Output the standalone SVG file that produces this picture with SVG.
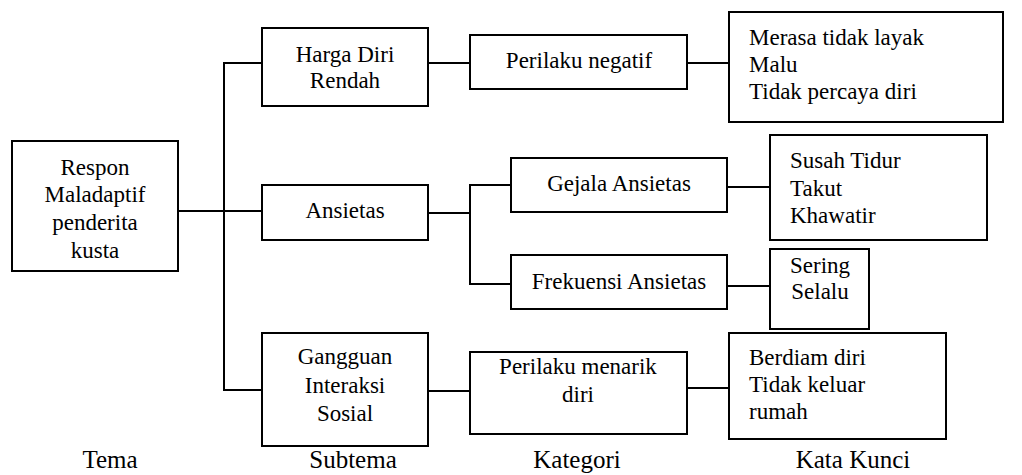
<svg xmlns="http://www.w3.org/2000/svg" width="1022" height="475" viewBox="0 0 1022 475">
<style>
rect{fill:#fff;stroke:#000;stroke-width:2}
.c line{stroke:#000;stroke-width:2}
text{font-family:'Liberation Serif','Tinos','DejaVu Serif',serif;font-size:23px;fill:#000}
.m{text-anchor:middle}
.h{font-size:25px;text-anchor:middle}
</style>
<rect width="1022" height="475" style="stroke:none"/>
<g class="c" id="connectors">
<line x1="178" y1="211" x2="262" y2="211"/>
<line x1="224" y1="62" x2="224" y2="391"/>
<line x1="223" y1="63" x2="262" y2="63"/>
<line x1="223" y1="390" x2="262" y2="390"/>
<line x1="428" y1="63" x2="470" y2="63"/>
<line x1="428" y1="213" x2="470" y2="213"/>
<line x1="470" y1="184" x2="470" y2="285"/>
<line x1="469" y1="185" x2="511" y2="185"/>
<line x1="469" y1="284" x2="511" y2="284"/>
<line x1="428" y1="391" x2="470" y2="391"/>
<line x1="687" y1="63" x2="729" y2="63"/>
<line x1="727" y1="187" x2="770" y2="187"/>
<line x1="727" y1="286" x2="770" y2="286"/>
<line x1="687" y1="388" x2="729" y2="388"/>
</g>
<g id="respon"><rect x="12" y="141" width="166" height="130"/>
<text class="m" x="95" y="175">Respon</text><text class="m" x="95" y="202">Maladaptif</text><text class="m" x="95" y="230">penderita</text><text class="m" x="95" y="258">kusta</text></g>
<g id="harga"><rect x="262" y="28" width="166" height="78"/>
<text class="m" x="345" y="62">Harga Diri</text><text class="m" x="345" y="88">Rendah</text></g>
<g id="ansietas"><rect x="262" y="185" width="166" height="55"/>
<text class="m" x="345" y="218">Ansietas</text></g>
<g id="gangguan"><rect x="262" y="333" width="166" height="113"/>
<text class="m" x="345" y="364">Gangguan</text><text class="m" x="345" y="393">Interaksi</text><text class="m" x="345" y="421">Sosial</text></g>
<g id="perilaku-negatif"><rect x="470" y="35" width="217" height="54"/>
<text class="m" x="579" y="68">Perilaku negatif</text></g>
<g id="gejala"><rect x="511" y="158" width="216" height="54"/>
<text class="m" x="619" y="191">Gejala Ansietas</text></g>
<g id="frekuensi"><rect x="511" y="255" width="216" height="54"/>
<text class="m" x="619" y="289">Frekuensi Ansietas</text></g>
<g id="perilaku-menarik"><rect x="470" y="352" width="217" height="82"/>
<text class="m" x="578" y="374">Perilaku menarik</text><text class="m" x="578" y="402">diri</text></g>
<g id="merasa"><rect x="729" y="12" width="274" height="110"/>
<text x="749" y="45">Merasa tidak layak</text><text x="749" y="72">Malu</text><text x="749" y="99">Tidak percaya diri</text></g>
<g id="susah"><rect x="770" y="135" width="217" height="105"/>
<text x="790" y="168">Susah Tidur</text><text x="790" y="196">Takut</text><text x="790" y="223">Khawatir</text></g>
<g id="sering"><rect x="770" y="249" width="99" height="80"/>
<text class="m" x="820" y="273">Sering</text><text class="m" x="820" y="299">Selalu</text></g>
<g id="berdiam"><rect x="729" y="333" width="217" height="106"/>
<text x="749" y="365">Berdiam diri</text><text x="749" y="392">Tidak keluar</text><text x="749" y="419">rumah</text></g>
<g id="labels">
<text class="h" x="110" y="468">Tema</text>
<text class="h" x="353" y="468">Subtema</text>
<text class="h" x="577" y="468">Kategori</text>
<text class="h" x="853" y="468">Kata Kunci</text>
</g>
</svg>
